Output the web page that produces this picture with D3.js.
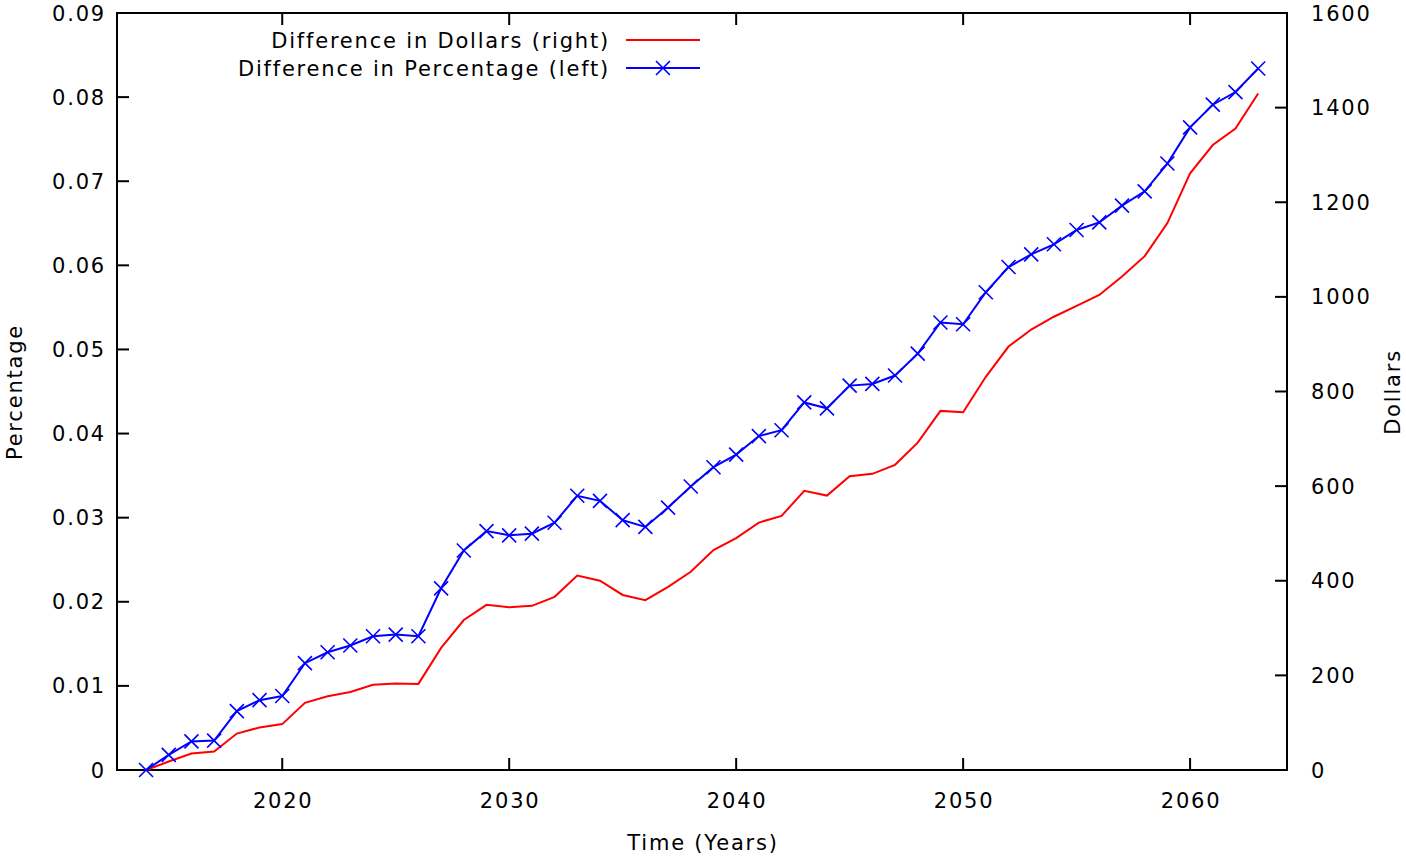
<!DOCTYPE html>
<html>
<head>
<meta charset="UTF-8">
<script src="https://d3js.org/d3.v7.min.js"></script>
<style>
    body { margin: 0; background: #fff; }
    svg text { font-family: 'DejaVu Sans', sans-serif; font-size: 21px; letter-spacing: 1.8px; fill: #000; }
</style>
</head>
<body>
<div id="chart"></div>
<script>
    // years 2014..2063
    const years = d3.range(2014, 2064);
    // difference in percentage (left axis)
    const pct = [0, 0.0018, 0.0034, 0.0035, 0.0070, 0.0083, 0.0088, 0.0127, 0.0140, 0.0148,
        0.0159, 0.0161, 0.0159, 0.0216, 0.0261, 0.0284, 0.0279, 0.0281, 0.0294, 0.0326,
        0.0320, 0.0297, 0.0289, 0.0312, 0.0337, 0.0360, 0.0375, 0.0397, 0.0404, 0.0437,
        0.0430, 0.0457, 0.0459, 0.0469, 0.0495, 0.0532, 0.0530, 0.0568, 0.0598, 0.0613,
        0.0625, 0.0642, 0.0651, 0.0671, 0.0688, 0.0721, 0.0764, 0.0791, 0.0806, 0.0834];
    // difference in dollars (right axis)
    const dollars = [0, 18, 35, 39, 77, 90, 97, 142, 156, 165,
        180, 183, 182, 258, 317, 349, 344, 347, 366, 411,
        400, 370, 359, 387, 419, 465, 490, 523, 537, 590,
        580, 621, 626, 645, 692, 759, 756, 831, 895, 931,
        958, 981, 1004, 1043, 1086, 1156, 1261, 1321, 1356, 1430];
    const xTicks = [2020, 2030, 2040, 2050, 2060];
    const yTicks = ["0", "0.01", "0.02", "0.03", "0.04", "0.05", "0.06", "0.07", "0.08", "0.09"];
    const y2Ticks = [0, 200, 400, 600, 800, 1000, 1200, 1400, 1600];

    const width = 1406, height = 861;
    const mLeft = 117, mRight = 1287, mTop = 13, mBottom = 770;

    const svg = d3.select("#chart").append("svg")
        .attr("width", width).attr("height", height);

    const x = d3.scaleLinear().domain([2012.72, 2064.27]).range([mLeft, mRight]);
    const y = d3.scaleLinear().domain([0, 0.09]).range([mBottom, mTop]);
    const y2 = d3.scaleLinear().domain([0, 1600]).range([mBottom, mTop]);

    const tick = 12;
    const g = svg.append("g");

    // x ticks bottom + top mirror
    xTicks.forEach(t => {
        g.append("line").attr("x1", x(t)).attr("x2", x(t)).attr("y1", mBottom).attr("y2", mBottom - tick)
            .attr("stroke", "#000").attr("stroke-width", 2);
        g.append("line").attr("x1", x(t)).attr("x2", x(t)).attr("y1", mTop).attr("y2", mTop + tick)
            .attr("stroke", "#000").attr("stroke-width", 2);
        g.append("text").attr("x", x(t) + 1).attr("y", mBottom + 38)
            .attr("text-anchor", "middle").text(t);
    });

    yTicks.forEach(t => {
        g.append("line").attr("x1", mLeft).attr("x2", mLeft + tick).attr("y1", y(+t)).attr("y2", y(+t))
            .attr("stroke", "#000").attr("stroke-width", 2);
        g.append("text").attr("x", 106).attr("y", y(+t)).attr("dy", "0.36em")
            .attr("text-anchor", "end").text(t);
    });

    y2Ticks.forEach(t => {
        g.append("line").attr("x1", mRight).attr("x2", mRight - tick).attr("y1", y2(t)).attr("y2", y2(t))
            .attr("stroke", "#000").attr("stroke-width", 2);
        g.append("text").attr("x", 1311).attr("y", y2(t)).attr("dy", "0.36em")
            .attr("text-anchor", "start").text(t);
    });

    // frame
    g.append("rect").attr("x", mLeft).attr("y", mTop)
        .attr("width", mRight - mLeft).attr("height", mBottom - mTop)
        .attr("fill", "none").attr("stroke", "#000").attr("stroke-width", 2);

    // axis titles
    svg.append("text").attr("x", 703).attr("y", 850).attr("text-anchor", "middle").text("Time (Years)");
    svg.append("text").attr("transform", "translate(22,392) rotate(-90)")
        .attr("text-anchor", "middle").text("Percentage");
    svg.append("text").attr("transform", "translate(1400,392) rotate(-90)")
        .attr("text-anchor", "middle").text("Dollars");

    // lines
    const lineD = d3.line().x((d, i) => x(years[i])).y(d => y2(d));
    const lineP = d3.line().x((d, i) => x(years[i])).y(d => y(d));

    svg.append("path").datum(dollars).attr("d", lineD)
        .attr("fill", "none").attr("stroke", "#ff0000").attr("stroke-width", 2);
    svg.append("path").datum(pct).attr("d", lineP)
        .attr("fill", "none").attr("stroke", "#0000ff").attr("stroke-width", 2);

    const s = 7;
    const crossPath = `M${-s},${-s}L${s},${s}M${-s},${s}L${s},${-s}`;
    svg.selectAll(".pt").data(pct).enter().append("path")
        .attr("class", "pt")
        .attr("transform", (d, i) => `translate(${x(years[i])},${y(d)})`)
        .attr("d", crossPath)
        .attr("fill", "none").attr("stroke", "#0000ff").attr("stroke-width", 1.6);

    // legend
    const leg = svg.append("g");
    leg.append("text").attr("x", 610).attr("y", 40).attr("dy", "0.36em")
        .attr("text-anchor", "end").text("Difference in Dollars (right)");
    leg.append("line").attr("x1", 626).attr("x2", 700).attr("y1", 40).attr("y2", 40)
        .attr("stroke", "#ff0000").attr("stroke-width", 2);
    leg.append("text").attr("x", 610).attr("y", 68).attr("dy", "0.36em")
        .attr("text-anchor", "end").text("Difference in Percentage (left)");
    leg.append("line").attr("x1", 626).attr("x2", 700).attr("y1", 68).attr("y2", 68)
        .attr("stroke", "#0000ff").attr("stroke-width", 2);
    leg.append("path").attr("transform", "translate(663,68)")
        .attr("d", crossPath)
        .attr("fill", "none").attr("stroke", "#0000ff").attr("stroke-width", 1.6);
</script>
</body>
</html>
